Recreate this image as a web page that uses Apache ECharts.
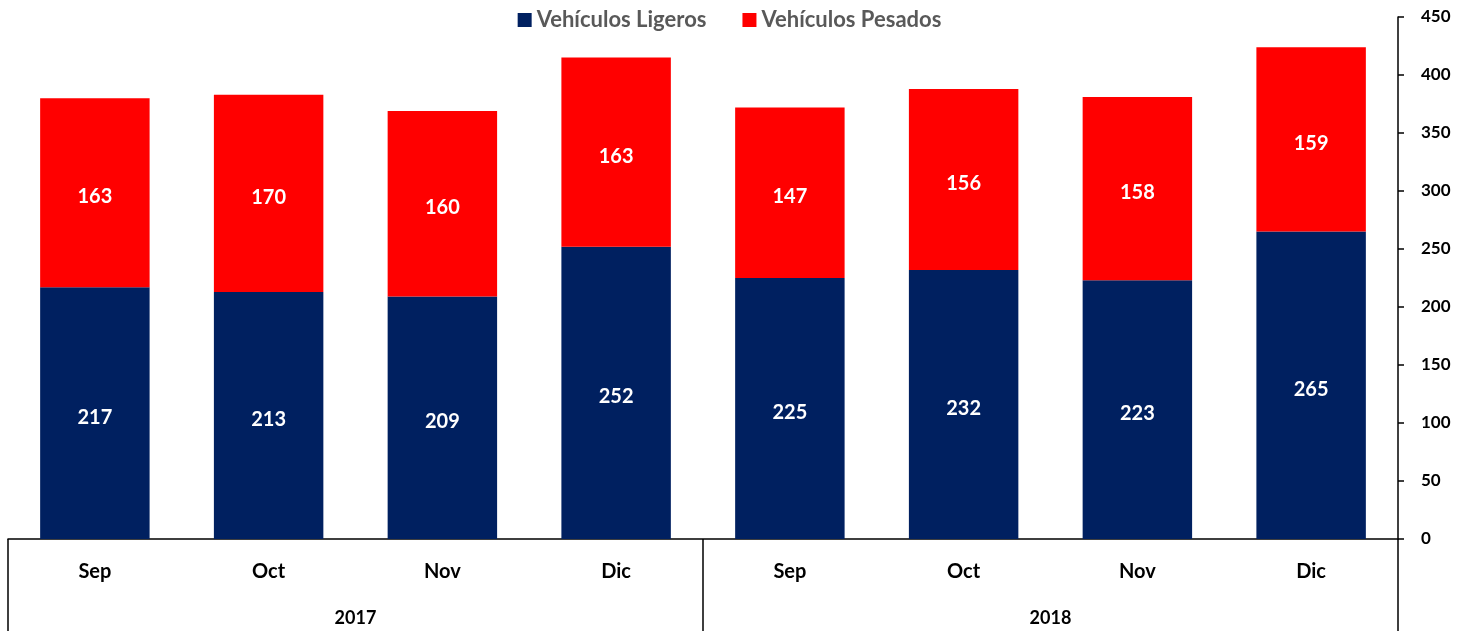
<!DOCTYPE html>
<html>
<head>
<meta charset="utf-8">
<script src="https://cdn.jsdelivr.net/npm/echarts@6/dist/echarts.min.js"></script>
<style>
    html, body {margin: 0; padding: 0; background: #fff;}
    #chart {width: 1459px; height: 631px;}
</style>
</head>
<body>
<div id="chart"></div>
<script>
var months = ['Sep', 'Oct', 'Nov', 'Dic', 'Sep', 'Oct', 'Nov', 'Dic'];
var years = ['2017', '2018'];
var ligeros = [217, 213, 209, 252, 225, 232, 223, 265];
var pesados = [163, 170, 160, 163, 147, 156, 158, 159];

var font = 'Lato';
var myChart = echarts.init(document.getElementById('chart'));
var option = {
    animation: false,
    legend: {
        top: 4,
        left: 'center',
        itemWidth: 14,
        itemHeight: 14,
        itemGap: 36,
        icon: 'rect',
        textStyle: {color: '#595959', fontSize: 22, fontWeight: 'bold', fontFamily: font},
        data: ['Vehículos Ligeros', 'Vehículos Pesados']
    },
    grid: {left: 8, right: 61, top: 17, bottom: 92},
    xAxis: [
        {
            type: 'category',
            data: months,
            axisLine: {lineStyle: {color: '#000', width: 1.5}},
            axisTick: {show: false},
            axisLabel: {margin: 23, color: '#000', fontSize: 20, fontWeight: 'bold', fontFamily: font}
        },
        {
            type: 'category',
            data: years,
            position: 'bottom',
            axisLine: {show: false},
            axisTick: {show: true, length: 92, lineStyle: {color: '#000', width: 1.5}},
            axisLabel: {margin: 70, color: '#000', fontSize: 18, fontWeight: 'bold', fontFamily: font}
        }
    ],
    yAxis: {
        type: 'value',
        position: 'right',
        min: 0,
        max: 450,
        interval: 50,
        axisLine: {show: true, lineStyle: {color: '#000', width: 1.5}},
        axisTick: {show: true, length: 6, lineStyle: {color: '#000', width: 1.5}},
        splitLine: {show: false},
        axisLabel: {margin: 23, color: '#000', fontSize: 17, fontWeight: 'bold', fontFamily: font}
    },
    series: [
        {
            name: 'Vehículos Ligeros',
            type: 'bar',
            stack: 'total',
            barWidth: '63%',
            itemStyle: {color: '#002060'},
            label: {show: true, position: 'inside', offset: [0, 4], color: '#fff', fontSize: 20, fontWeight: 'bold', fontFamily: font},
            data: ligeros
        },
        {
            name: 'Vehículos Pesados',
            type: 'bar',
            stack: 'total',
            barWidth: '63%',
            itemStyle: {color: '#FF0000'},
            label: {show: true, position: 'inside', offset: [0, 4], color: '#fff', fontSize: 20, fontWeight: 'bold', fontFamily: font},
            data: pesados
        }
    ]
};
myChart.setOption(option, true);
</script>
</body>
</html>
